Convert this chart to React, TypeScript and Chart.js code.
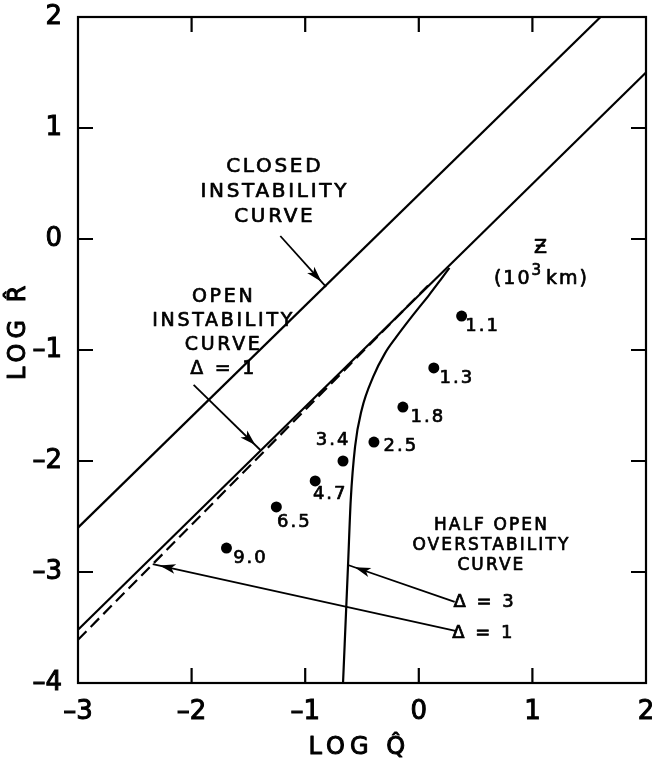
import React, { useEffect, useRef } from "react";
import { Chart, registerables } from "chart.js";

Chart.register(...registerables);

// Axis ranges (log units)
const Q_MIN = -3;
const Q_MAX = 2;
const R_MIN = -4;
const R_MAX = 2;

// Closed instability curve
const CLOSED_Q = [-3.0, 1.6];
const CLOSED_R = [-2.6, 2.0];

// Open instability curve, Δ = 1
const OPEN_Q = [-3.0, 2.0];
const OPEN_R = [-3.52, 1.5];

// Half open overstability curve, Δ = 1 (dashed)
const HALF1_Q = [-3.0, 0.1];
const HALF1_R = [-3.61, -0.4];

// Half open overstability curve, Δ = 3
const HALF3_Q = [-0.667, -0.623, -0.599, -0.561, -0.503, -0.401, -0.298, -0.196, -0.108, -0.02, 0.09, 0.19, 0.27];
const HALF3_R = [-4.0, -2.94, -2.35, -1.87, -1.54, -1.24, -1.03, -0.88, -0.76, -0.645, -0.505, -0.37, -0.26];

// Observed points, labelled by height z (10^3 km)
const Z_LABELS = ["1.1", "1.3", "1.8", "2.5", "3.4", "4.7", "6.5", "9.0"];
const PT_Q = [0.377, 0.132, -0.14, -0.395, -0.667, -0.912, -1.254, -1.693];
const PT_R = [-0.694, -1.162, -1.514, -1.829, -2.0, -2.18, -2.414, -2.784];

// Label placement relative to each dot (pixels)
const LABEL_OFFSETS: [number, number][] = [
  [20, 10], [22, 10], [24, 10], [26, 4], [-11, -21], [14, 13], [17, 15], [23, 10],
];

const FONT = '"DejaVu Sans", sans-serif';
const TEXT_STROKE = 0.7;

const zip = (xs: number[], ys: number[]) => xs.map((x, i) => ({ x, y: ys[i] }));

type TextBlock = { q: number; r: number; lines: string[]; size: number; step: number; spacing: number };
type Arrow = { from: [number, number]; to: [number, number] };

// Annotation text blocks, anchored in data coordinates (center of first line)
const TEXT_BLOCKS: TextBlock[] = [
  { q: -1.28, r: 0.65, lines: ["CLOSED", "INSTABILITY", "CURVE"], size: 20, step: 25, spacing: 2.7 },
  { q: -1.73, r: -0.52, lines: ["OPEN", "INSTABILITY", "CURVE", "Δ = 1"], size: 19, step: 24, spacing: 2.7 },
  { q: 0.63, r: -2.58, lines: ["HALF OPEN", "OVERSTABILITY", "CURVE"], size: 17, step: 20, spacing: 2.1 },
  { q: 0.57, r: -3.27, lines: ["Δ = 3"], size: 18, step: 20, spacing: 2.5 },
  { q: 0.56, r: -3.55, lines: ["Δ = 1"], size: 18, step: 20, spacing: 2.5 },
];

const ARROWS: Arrow[] = [
  { from: [-1.219, 0.027], to: [-0.816, -0.432] },
  { from: [-1.982, -1.315], to: [-1.395, -1.901] },
  { from: [0.316, -3.27], to: [-0.623, -2.937] },
  { from: [0.333, -3.532], to: [-2.342, -2.928] },
];

// Heading for the point labels
const Z_HEAD_Q = 1.08;
const Z_HEAD_R = -0.08;

function drawArrow(ctx: CanvasRenderingContext2D, x0: number, y0: number, x1: number, y1: number) {
  ctx.beginPath();
  ctx.moveTo(x0, y0);
  ctx.lineTo(x1, y1);
  ctx.stroke();
  const dx = x1 - x0;
  const dy = y1 - y0;
  const len = Math.hypot(dx, dy);
  const ux = dx / len;
  const uy = dy / len;
  const tipX = x1 - ux * 7;
  const tipY = y1 - uy * 7;
  const baseX = tipX - ux * 16;
  const baseY = tipY - uy * 16;
  const hw = 4.8;
  ctx.beginPath();
  ctx.moveTo(tipX, tipY);
  ctx.lineTo(baseX - uy * hw, baseY + ux * hw);
  ctx.lineTo(baseX + ux * 4, baseY + uy * 4);
  ctx.lineTo(baseX + uy * hw, baseY - ux * hw);
  ctx.closePath();
  ctx.fill();
}

function text(ctx: CanvasRenderingContext2D, s: string, x: number, y: number) {
  ctx.fillText(s, x, y);
  ctx.strokeText(s, x, y);
}

const framePlugin = {
  id: "frameTicks",
  afterDatasetsDraw(chart: any) {
    const { ctx, chartArea: a, scales } = chart;
    const x = scales.x;
    const y = scales.y;
    ctx.save();
    ctx.strokeStyle = "#000";
    ctx.lineWidth = 2.2;
    ctx.strokeRect(a.left, a.top, a.right - a.left, a.bottom - a.top);
    const TL = 15;
    ctx.beginPath();
    x.ticks.forEach((t: any) => {
      if (t.value <= Q_MIN || t.value >= Q_MAX) return;
      const px = x.getPixelForValue(t.value);
      ctx.moveTo(px, a.bottom);
      ctx.lineTo(px, a.bottom - TL);
      ctx.moveTo(px, a.top);
      ctx.lineTo(px, a.top + TL);
    });
    y.ticks.forEach((t: any) => {
      if (t.value <= R_MIN || t.value >= R_MAX) return;
      const py = y.getPixelForValue(t.value);
      ctx.moveTo(a.left, py);
      ctx.lineTo(a.left + TL, py);
      ctx.moveTo(a.right, py);
      ctx.lineTo(a.right - TL, py);
    });
    ctx.stroke();
    ctx.restore();
  },
};

const annotationPlugin = {
  id: "annotations",
  afterDraw(chart: any) {
    const { ctx, scales } = chart;
    const x = scales.x;
    const y = scales.y;
    const px = (q: number) => x.getPixelForValue(q);
    const py = (r: number) => y.getPixelForValue(r);
    ctx.save();
    ctx.fillStyle = "#000";
    ctx.strokeStyle = "#000";
    ctx.lineJoin = "round";
    ctx.textAlign = "center";
    ctx.textBaseline = "middle";
    ctx.lineWidth = TEXT_STROKE;

    // Text blocks
    TEXT_BLOCKS.forEach((b) => {
      ctx.font = `${b.size}px ${FONT}`;
      (ctx as any).letterSpacing = `${b.spacing}px`;
      b.lines.forEach((line, i) => {
        text(ctx, line, px(b.q) + b.spacing / 2, py(b.r) + i * b.step);
      });
    });

    // Heading "Ƶ (10³km)"
    (ctx as any).letterSpacing = "2px";
    ctx.font = `19px ${FONT}`;
    const hx = px(Z_HEAD_Q);
    const hy = py(Z_HEAD_R);
    text(ctx, "\u01B5", hx, hy);
    const y2 = hy + 31;
    const p1 = "(10";
    const p3 = "km)";
    const w1 = ctx.measureText(p1).width;
    const w3 = ctx.measureText(p3).width;
    ctx.font = `15px ${FONT}`;
    const w2 = ctx.measureText("3").width + 3;
    const total = w1 + w2 + w3;
    let cx = hx - total / 2;
    ctx.textAlign = "left";
    ctx.font = `19px ${FONT}`;
    text(ctx, p1, cx, y2);
    cx += w1;
    ctx.font = `15px ${FONT}`;
    text(ctx, "3", cx, y2 - 8);
    cx += w2;
    ctx.font = `19px ${FONT}`;
    text(ctx, p3, cx, y2);
    ctx.textAlign = "center";

    // Point labels
    ctx.font = `18px ${FONT}`;
    (ctx as any).letterSpacing = "2px";
    Z_LABELS.forEach((lab, i) => {
      const [ox, oy] = LABEL_OFFSETS[i];
      text(ctx, lab, px(PT_Q[i]) + ox + 1, py(PT_R[i]) + oy);
    });

    // Arrows
    (ctx as any).letterSpacing = "0px";
    ctx.lineWidth = 1.8;
    ARROWS.forEach((a) => {
      drawArrow(ctx, px(a.from[0]), py(a.from[1]), px(a.to[0]), py(a.to[1]));
    });

    // Axis titles
    ctx.lineWidth = 1;
    ctx.font = `24px ${FONT}`;
    (ctx as any).letterSpacing = "5px";
    text(ctx, "LOG Q\u0302", px(-0.55) + 3, 748);
    ctx.translate(19, py(-0.85));
    ctx.rotate(-Math.PI / 2);
    text(ctx, "LOG R\u0302", 3, 0);
    ctx.restore();
  },
};

// Tick labels use an en dash for the minus sign
const tickText = (v: any) => (v < 0 ? `\u2013${Math.abs(v)}` : String(v));

export default function App() {
  const canvasRef = useRef<HTMLCanvasElement | null>(null);

  useEffect(() => {
    const canvas = canvasRef.current;
    if (!canvas) return;
    const line = (data: { x: number; y: number }[], extra: object = {}) => ({
      data,
      showLine: true,
      borderColor: "#000",
      borderWidth: 2.2,
      pointRadius: 0,
      fill: false,
      ...extra,
    });
    const tickOpts = (padding: number) => ({
      stepSize: 1,
      color: "#000",
      padding,
      font: { family: FONT, size: 26 },
      textStrokeColor: "#000",
      textStrokeWidth: 1,
      callback: tickText,
    });
    const chart = new Chart(canvas, {
      type: "scatter",
      data: {
        datasets: [
          line(zip(CLOSED_Q, CLOSED_R)),
          line(zip(OPEN_Q, OPEN_R)),
          line(zip(HALF1_Q, HALF1_R), { borderDash: [12, 6] }),
          line(zip(HALF3_Q, HALF3_R), { cubicInterpolationMode: "monotone" }),
          {
            data: zip(PT_Q, PT_R),
            showLine: false,
            pointRadius: 5.5,
            pointBackgroundColor: "#000",
            pointBorderWidth: 0,
          },
        ] as any,
      },
      options: {
        responsive: false,
        animation: false,
        layout: { padding: { top: 17, right: 6, left: 0, bottom: 0 } },
        plugins: { legend: { display: false }, tooltip: { enabled: false } },
        scales: {
          x: {
            type: "linear",
            min: Q_MIN,
            max: Q_MAX,
            ticks: tickOpts(14),
            grid: { display: false, drawTicks: false },
            border: { display: false },
            afterFit: (s: any) => {
              s.height = 89;
              s.paddingLeft = 0;
              s.paddingRight = 0;
            },
          },
          y: {
            type: "linear",
            min: R_MIN,
            max: R_MAX,
            ticks: tickOpts(16),
            grid: { display: false, drawTicks: false },
            border: { display: false },
            afterFit: (s: any) => {
              s.width = 78;
              s.paddingTop = 0;
              s.paddingBottom = 0;
            },
          },
        },
      } as any,
      plugins: [framePlugin, annotationPlugin],
    });
    return () => chart.destroy();
  }, []);

  return (
    <div style={{ position: "absolute", left: 0, top: 0, width: 652, height: 772, background: "#fff" }}>
      <canvas ref={canvasRef} width={652} height={772} style={{ width: 652, height: 772, display: "block" }} />
    </div>
  );
}
